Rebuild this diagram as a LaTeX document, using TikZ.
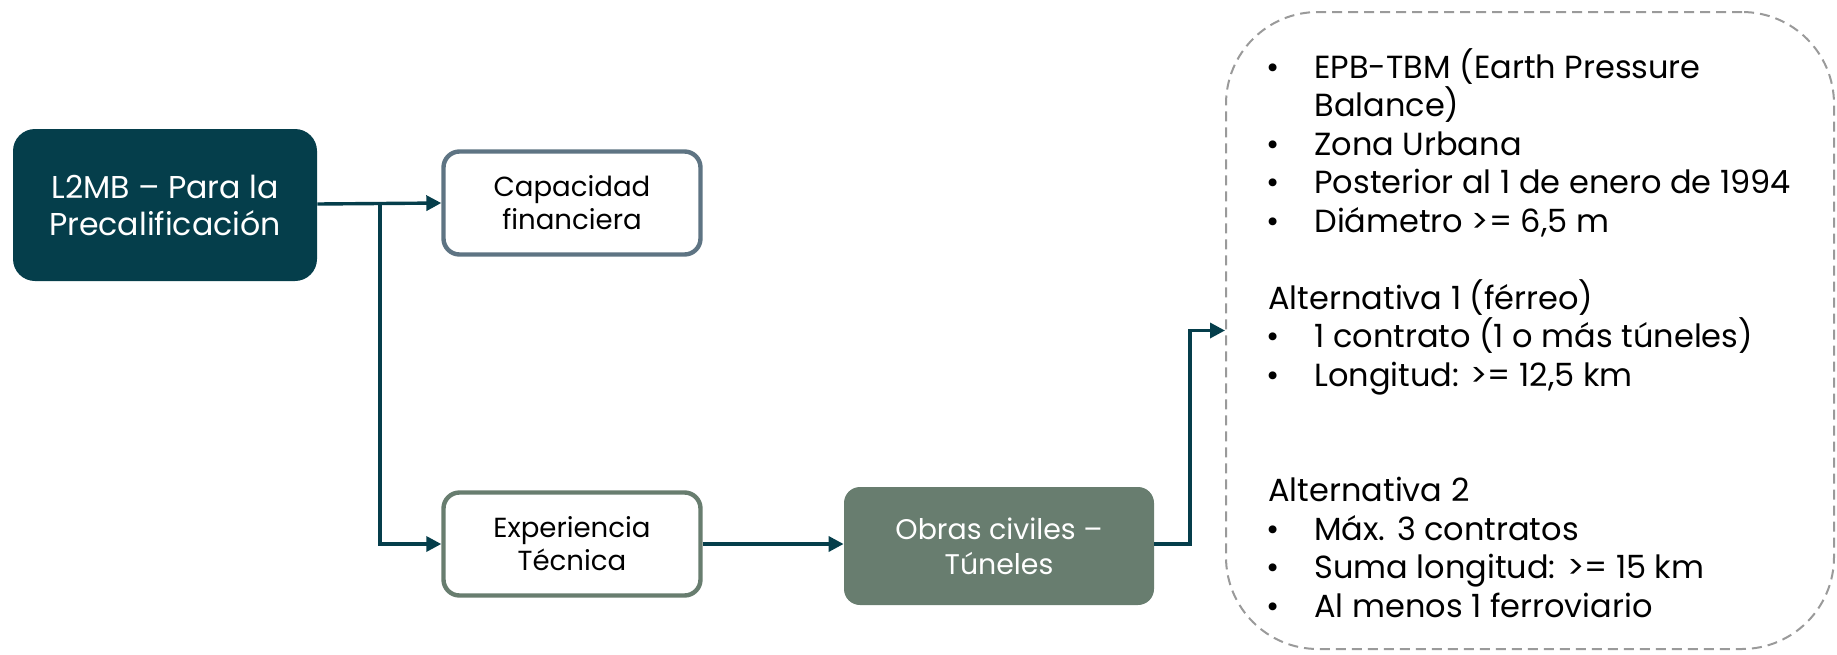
\documentclass[tikz,border=0pt]{standalone}
\usepackage{fontspec}
\setmainfont{Poppins}
\usetikzlibrary{arrows.meta}
\definecolor{tealdark}{HTML}{053E4B}
\definecolor{slateb}{HTML}{5E7483}
\definecolor{sage}{HTML}{687D6F}
\definecolor{dashg}{HTML}{9A9A9A}
\tikzset{
  box/.style={rectangle, rounded corners=8pt, inner sep=2pt, align=center},
  mainbox/.style={box, fill=tealdark, text=white, minimum width=152pt, minimum height=76pt, rounded corners=11pt, font=\fontsize{15.8}{18.5}\selectfont},
  outbox/.style={box, draw, line width=2.2pt, fill=white, minimum width=128.5pt, minimum height=51.5pt, font=\fontsize{13.8}{16.5}\selectfont},
  fillbox/.style={box, fill=sage, text=white, minimum width=155pt, minimum height=59pt, font=\fontsize{14.2}{17.5}\selectfont},
  reqbox/.style={rectangle, draw=dashg, line width=1pt, dash pattern=on 5pt off 3pt, rounded corners=46pt, minimum width=304pt, minimum height=318.5pt},
  conn/.style={draw=tealdark, line width=1.7pt, -{Triangle[length=7.5pt,width=7.5pt]}},
}
\newcommand{\bul}{\makebox[23pt][l]{\hspace*{-1pt}•}}
\begin{document}
\begin{tikzpicture}[x=0.5pt,y=-0.5pt]
\useasboundingbox (0,0) rectangle (1837,654);
\node[mainbox] (l2) at (165,205) {L2MB – Para la\\Precalificación};
\node[outbox, draw=slateb] (cap) at (572,203) {Capacidad\\financiera};
\node[outbox, draw=sage] (exp) at (572,544) {Experiencia\\Técnica};
\node[fillbox] (obr) at (999,546) {Obras civiles –\\Túneles};
\node[reqbox] (req) at (1530,330.5) {};
\node[anchor=north west, align=left, inner sep=0, font=\fontsize{16}{19.25}\selectfont] (txt) at (1268,48) {%
\bul EPB-TBM (Earth Pressure\\
\hspace*{23pt}Balance)\\
\bul Zona Urbana\\
\bul Posterior al 1 de enero de 1994\\
\bul Diámetro >= 6,5 m\\[19.25pt]
Alternativa 1 (férreo)\\
\bul 1 contrato (1 o más túneles)\\
\bul Longitud: >= 12,5 km\\[38.5pt]
Alternativa 2\\
\bul Máx. 3 contratos\\
\bul Suma longitud: >= 15 km\\
\bul Al menos 1 ferroviario};
\coordinate (br) at (380,204);
\coordinate (tr) at (1190,544);
\draw[conn] (l2.east |- br) -- (cap.west);
\draw[conn] (br) |- (exp.west);
\draw[conn] (exp.east) -- (obr.west |- exp.east);
\draw[conn] (obr.east |- tr) -- (tr) |- (req.west);
\end{tikzpicture}
\end{document}
